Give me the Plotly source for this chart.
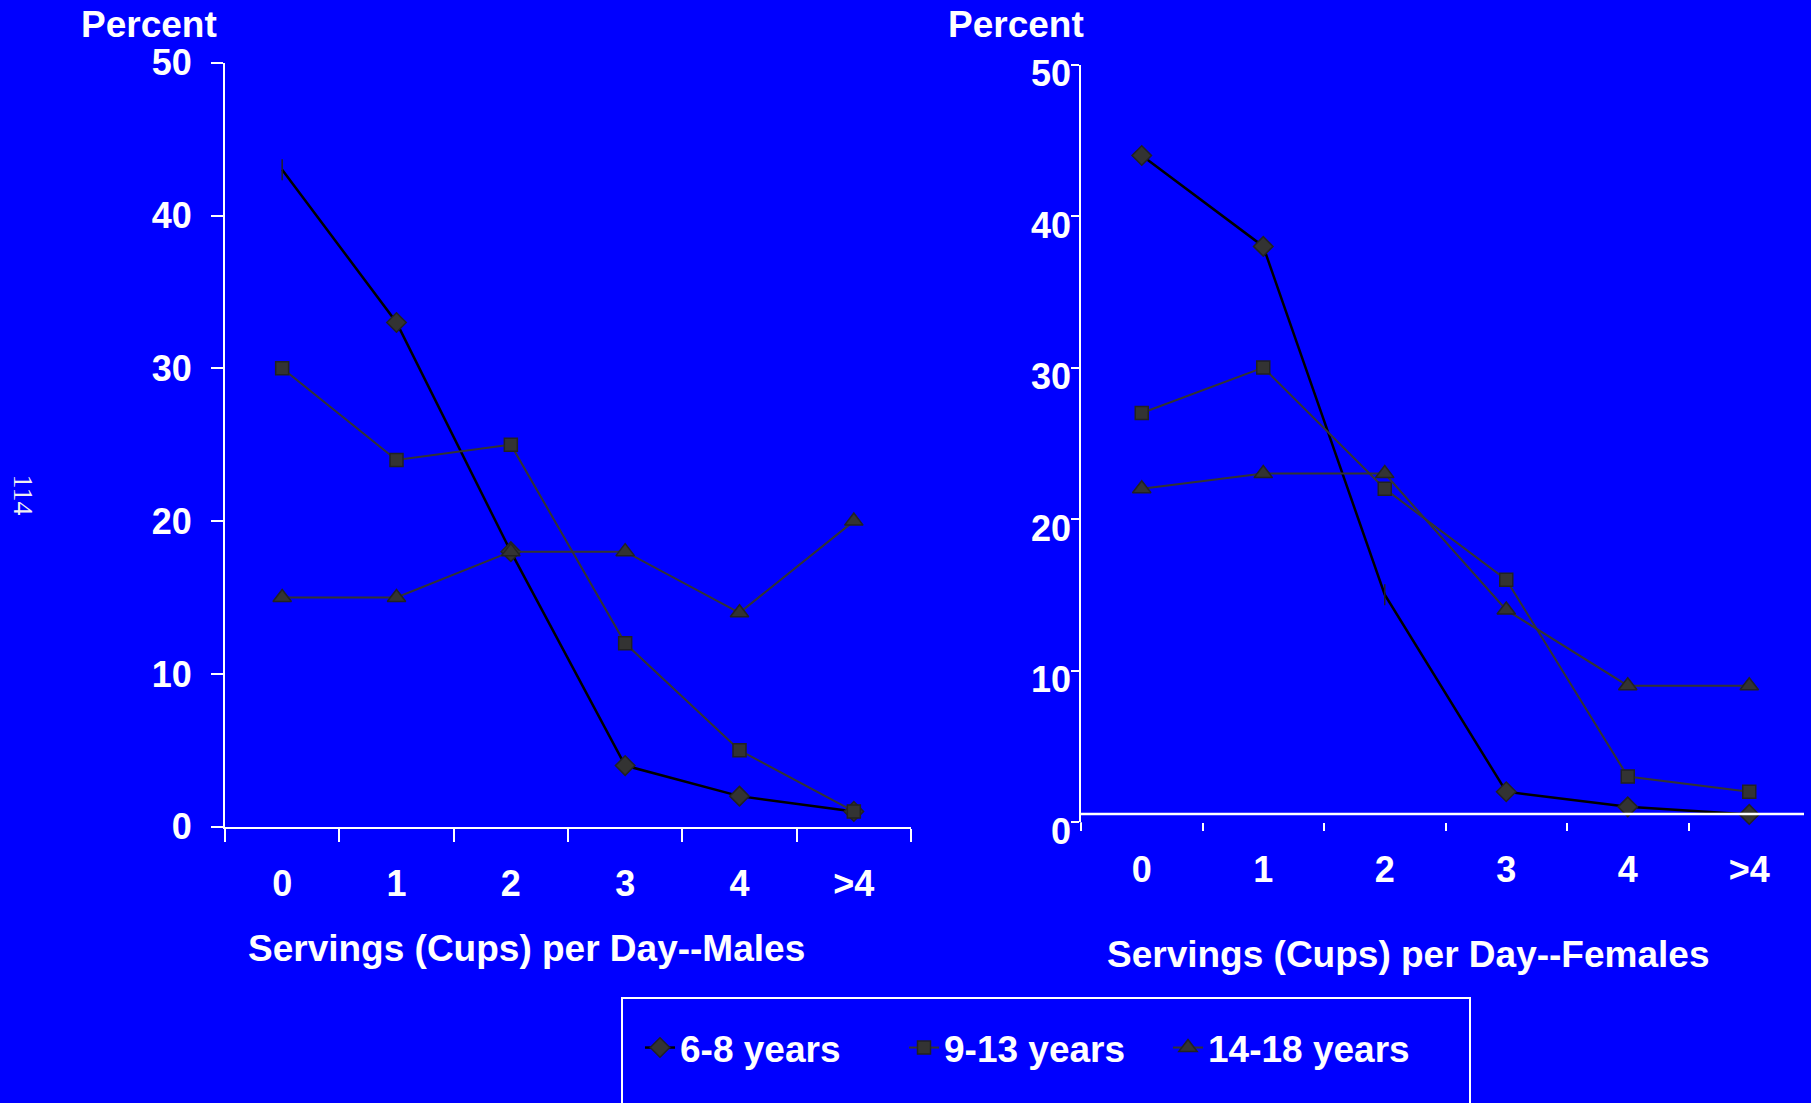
import plotly.graph_objects as go

# Servings categories on the x axis
servings = ["0", "1", "2", "3", "4", ">4"]
age_groups = ["6-8 years", "9-13 years", "14-18 years"]

# Percent of children by servings per day
male_6_8 = [43, 33, 18, 4, 2, 1]
male_9_13 = [30, 24, 25, 12, 5, 1]
male_14_18 = [15, 15, 18, 18, 14, 20]

female_6_8 = [44, 38, 15, 2, 1, 0.5]
female_9_13 = [27, 30, 22, 16, 3, 2]
female_14_18 = [22, 23, 23, 14, 9, 9]

y_ticks = [0, 10, 20, 30, 40, 50]

W, H = 1811, 1103
BLUE = "#0000FF"
WHITE = "#FFFFFF"
FONT = "Liberation Sans, Arial, sans-serif"
MARK = "#333333"

symbols = {"6-8 years": "diamond", "9-13 years": "square", "14-18 years": "triangle-up"}
msize = {"6-8 years": 15, "9-13 years": 13, "14-18 years": 16}
lcolor = {"6-8 years": "#000000", "9-13 years": "#333333", "14-18 years": "#333333"}
lwidth = {"6-8 years": 2.5, "9-13 years": 2, "14-18 years": 2}

# points whose marker renders only as a thin tick
bare_points = {("M", "6-8 years"): [0], ("F", "6-8 years"): [2]}


def px_x(p):
    return p / W


def px_y(p):
    return 1 - p / H


def marker_symbols(panel, group, n):
    bare = bare_points.get((panel, group), [])
    return ["line-ns" if i in bare else symbols[group] for i in range(n)]


fig = go.Figure()

# empty trace so the female label axis is laid out (drawn first, underneath)
fig.add_trace(go.Scatter(x=[], y=[], xaxis="x2", yaxis="y3", mode="markers",
                         showlegend=False, hoverinfo="skip"))

panels = [
    ("M", "x", "y", [male_6_8, male_9_13, male_14_18]),
    ("F", "x2", "y2", [female_6_8, female_9_13, female_14_18]),
]

for panel, xa, ya, series in panels:
    for group, vals in zip(age_groups, series):
        fig.add_trace(go.Scatter(
            x=servings, y=vals, xaxis=xa, yaxis=ya,
            name=group, legendgroup=group,
            showlegend=(panel == "F"),
            mode="lines+markers",
            line=dict(color=lcolor[group], width=lwidth[group]),
            marker=dict(symbol=marker_symbols(panel, group, len(vals)),
                        size=msize[group], color=MARK,
                        line=dict(color="#222222", width=1.5)),
            cliponaxis=False,
        ))

tick_font = dict(family=FONT, size=36, color=WHITE, weight="bold")

x_common = dict(type="category", categoryorder="array", categoryarray=servings,
                range=[-0.5, 5.5], tickson="boundaries", ticks="outside",
                tickcolor=WHITE, tickwidth=2, showgrid=False, zeroline=False,
                tickfont=tick_font, fixedrange=True)
y_common = dict(range=[0, 50], tickvals=y_ticks, showgrid=False, zeroline=False,
                tickfont=tick_font, fixedrange=True)

# female panel: tick marks sit slightly above their labels, so the labels
# come from a companion axis whose domain is nudged down a few pixels
F_TOP, F_BOT, F_LABEL_DROP = 64.6, 822, 9

fig.update_layout(
    width=W, height=H,
    margin=dict(l=0, r=0, t=0, b=0, autoexpand=False),
    paper_bgcolor=BLUE, plot_bgcolor="rgba(0,0,0,0)",
    font=dict(family=FONT, color=WHITE),
    xaxis=dict(x_common, domain=[px_x(225), px_x(911)], anchor="y",
               showline=True, linecolor=WHITE, linewidth=2, ticklen=13,
               ticklabelstandoff=24),
    yaxis=dict(y_common, domain=[px_y(826.7), px_y(62.7)], anchor="x",
               showline=True, linecolor=WHITE, linewidth=2,
               ticks="outside", tickcolor=WHITE, ticklen=12, tickwidth=2,
               ticklabelstandoff=12),
    xaxis2=dict(x_common, domain=[px_x(1081), px_x(1810)], anchor="y2",
                showline=False, ticklen=8, ticklabelstandoff=23),
    yaxis2=dict(y_common, domain=[px_y(F_BOT), px_y(F_TOP)], anchor="x2",
                showline=True, linecolor=WHITE, linewidth=1.5,
                ticks="outside", tickcolor=WHITE, ticklen=8, tickwidth=1.5,
                showticklabels=False),
    yaxis3=dict(y_common, domain=[px_y(F_BOT + F_LABEL_DROP), px_y(F_TOP + F_LABEL_DROP)],
                anchor="x2", showline=False, ticks="", ticklabelstandoff=9),
    legend=dict(orientation="h", x=px_x(640), y=px_y(1048), xanchor="left",
                yanchor="middle", bgcolor="rgba(0,0,0,0)", borderwidth=0,
                font=dict(family=FONT, size=37, color=WHITE, weight="bold"),
                entrywidth=219, traceorder="normal"),
    showlegend=True,
)

title_font = dict(family=FONT, size=37, color=WHITE, weight="bold")
annotations = [
    dict(text="Percent", x=px_x(149), y=px_y(24)),
    dict(text="Percent", x=px_x(1016), y=px_y(24)),
    dict(text="Servings (Cups) per Day--Males", x=px_x(526), y=px_y(948)),
    dict(text="Servings (Cups) per Day--Females", x=px_x(1408), y=px_y(954)),
]
for a in annotations:
    fig.add_annotation(xref="paper", yref="paper", showarrow=False,
                       xanchor="center", yanchor="middle", font=title_font, **a)

# page number printed sideways at the left edge
fig.add_annotation(text="114", xref="paper", yref="paper", x=px_x(6), y=px_y(495),
                   showarrow=False, textangle=90,
                   font=dict(family="Liberation Serif, Times New Roman, serif",
                             size=28, color="#F0F0F0"))

# female panel baseline sits just above the zero tick row
fig.add_shape(type="line", xref="x2 domain", yref="y2 domain",
              x0=0, x1=(1804 - 1081) / (1810 - 1081), y0=8 / (F_BOT - F_TOP),
              y1=8 / (F_BOT - F_TOP), line=dict(color=WHITE, width=2.5))
# y axis of the female panel runs a little below zero
fig.add_shape(type="line", xref="x2 domain", yref="y2 domain",
              x0=0, x1=0, y0=-8 / (F_BOT - F_TOP), y1=0,
              line=dict(color=WHITE, width=1.5))

# legend frame, running off the bottom edge of the page
fig.add_shape(type="rect", xref="paper", yref="paper",
              x0=px_x(622), x1=px_x(1470), y0=px_y(1140), y1=px_y(998),
              line=dict(color=WHITE, width=2), fillcolor="rgba(0,0,0,0)")

fig.write_html("out.html")
